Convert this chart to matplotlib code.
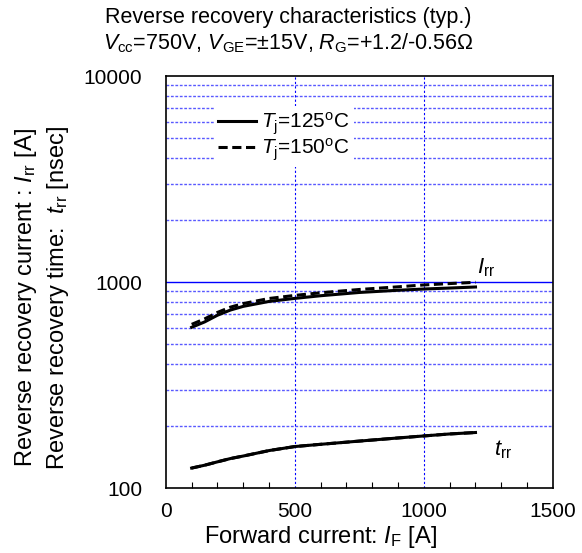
import matplotlib
matplotlib.use('Agg')
import matplotlib.pyplot as plt
import numpy as np
from matplotlib.ticker import FixedLocator, NullFormatter

plt.rcParams['font.family'] = ['Liberation Sans', 'DejaVu Sans']
plt.rcParams['mathtext.fontset'] = 'custom'
plt.rcParams['mathtext.rm'] = 'Liberation Sans'
plt.rcParams['mathtext.it'] = 'Liberation Sans:italic'

# forward current [A]
i_f = [100, 150, 200, 250, 300, 400, 500, 600, 750, 900, 1000, 1100, 1200]
# reverse recovery current [A]
irr_125 = [603, 640, 690, 731, 762, 805, 833, 858, 890, 912, 925, 935, 946]
irr_150 = [623, 662, 712, 755, 786, 832, 861, 887, 920, 948, 968, 983, 997]
# reverse recovery time [nsec]
trr_125 = [125, 129, 134, 139, 143, 152, 159, 163, 169, 175, 179, 183, 186]
trr_150 = trr_125

fig = plt.figure(figsize=(5.82, 5.53), dpi=100)
ax = fig.add_axes([0.285, 0.1175, 0.665, 0.745])

ax.set_yscale('log')
ax.set_xlim(0, 1500)
ax.set_ylim(100, 10000)

#ticks
minor_y = [v * d for d in (100, 1000) for v in range(2, 10)]
ax.yaxis.set_major_locator(FixedLocator([100, 1000, 10000]))
ax.yaxis.set_minor_locator(FixedLocator(minor_y))
ax.yaxis.set_minor_formatter(NullFormatter())
ax.set_yticklabels(['100', '1000', '10000'])
ax.xaxis.set_major_locator(FixedLocator([0, 500, 1000, 1500]))
ax.xaxis.set_minor_locator(FixedLocator([x for x in range(100, 1500, 100) if x % 500]))
ax.tick_params(axis='x', which='minor', direction='in', length=4, width=0.8, top=False)
ax.tick_params(axis='x', which='major', length=0, pad=10)
ax.tick_params(axis='y', which='both', length=0, pad=17)
ax.tick_params(labelsize=15)

#grid lines
for v in minor_y:
    ax.axhline(v, color='#3030ff', lw=1.0, ls=(0, (2, 1.2)), alpha=0.8, zorder=1)
ax.axhline(1000, color='blue', lw=1.0, zorder=1)
for x in [500, 1000]:
    ax.axvline(x, color='blue', lw=0.8, ls=(0, (2, 2)), zorder=1)

#curves
ax.plot(i_f, irr_125, color='black', lw=2.2, label=r'$T_{\rm j}$=125$^{\rm o}$C', zorder=3)
ax.plot(i_f, irr_150, color='black', lw=2.2, ls=(0, (3, 1.5)), label=r'$T_{\rm j}$=150$^{\rm o}$C', zorder=3)
ax.plot(i_f, trr_125, color='black', lw=2.2, zorder=3)
ax.plot(i_f, trr_150, color='black', lw=2.2, ls=(0, (3, 1.5)), zorder=3)

ax.text(1205, 1170, r'$I_{\rm rr}$', fontsize=16, ha='left', va='center')
ax.text(1272, 153, r'$t_{\rm rr}$', fontsize=16, ha='left', va='center')

leg = ax.legend(loc='upper left', bbox_to_anchor=(0.124, 0.927), frameon=True, fontsize=15,
                handlelength=1.8, handletextpad=0.25, labelspacing=0.0, borderpad=0.2,
                borderaxespad=0)
leg.get_frame().set_edgecolor('none')
leg.get_frame().set_facecolor('white')
leg.get_frame().set_alpha(1.0)
leg.get_frame().set_boxstyle('square', pad=0)
leg.set_zorder(5)

for s in ax.spines.values():
    s.set_linewidth(1.2)

fig.text(320 / 582, 1 - 537 / 553, r'Forward current: $I_{\rm F}$ [A]', fontsize=17,
         ha='center', va='center')
fig.text(42 / 582, 1 - 298 / 553,
         'Reverse recovery current : $I_{\\rm rr}$ [A]\nReverse recovery time:  $t_{\\rm rr}$ [nsec]',
         fontsize=17, rotation=90, ha='center', va='center', multialignment='center', linespacing=1.35)
fig.text(288 / 582, 1 - 18 / 553, 'Reverse recovery characteristics (typ.)', ha='center', va='center', fontsize=15.5)
fig.text(288 / 582, 1 - 43 / 553, r'$V_{\rm cc}$=750V, $V_{\rm GE}$=±15V, $R_{\rm G}$=+1.2/-0.56Ω',
         ha='center', va='center', fontsize=15.5)

fig.savefig('out.png', dpi=100)
